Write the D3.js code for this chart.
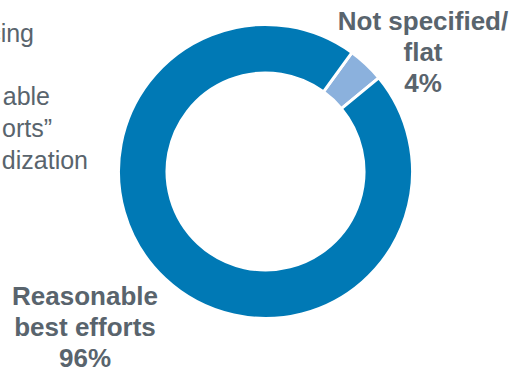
<!DOCTYPE html>
<html>
<head>
<meta charset="utf-8">
<script src="https://cdn.jsdelivr.net/npm/d3@7"></script>
<style>
  body { margin: 0; background: #fff; }
  svg { display: block; font-family: "Liberation Sans", Arial, sans-serif; }
</style>
</head>
<body>
<svg id="chart" width="512" height="368"></svg>
<script>
// chart values
const categories = ["Not specified/ flat", "Reasonable best efforts"];
const values = [4, 96];
const labelLines = [["Not specified/", "flat", "4%"], ["Reasonable", "best efforts", "96%"]];
// what is left of the slide's side text (the rest is cropped away in the source)
const sideText = ["cing", "", "able", "orts\u201d", "dization"];

const colours = { slices: ["#8BB1DD", "#0079B5"], text: "#59646D" };

const svg = d3.select("#chart");
const cx = 265.5, cy = 171.5;
const outerR = 147, innerR = 98.5;

svg.append("g")
  .selectAll("text")
  .data(sideText)
  .join("text")
  .attr("x", (d, i) => [34, 0, 50, 52, 88][i])
  .attr("y", (d, i) => 41.5 + i * 31.9)
  .attr("text-anchor", "end")
  .style("font-size", "25px")
  .style("fill", colours.text)
  .text((d) => d);

const pie = d3.pie()
  .sort(null)
  .startAngle((36 * Math.PI) / 180)
  .endAngle((36 * Math.PI) / 180 + 2 * Math.PI);

const arc = d3.arc().innerRadius(innerR).outerRadius(outerR);

const g = svg.append("g").attr("transform", `translate(${cx},${cy})`);

g.selectAll("path.slice")
  .data(pie(values))
  .join("path")
  .attr("class", "slice")
  .attr("d", arc)
  .style("fill", (d, i) => colours.slices[i])
  .style("stroke", "#fff")
  .style("stroke-width", 3);

// labels
const labelPos = [{ x: 423, y: 30 }, { x: 85, y: 305 }];
labelLines.forEach((lines, i) => {
  svg.append("text")
    .attr("text-anchor", "middle")
    .style("font-size", "26px")
    .style("font-weight", "bold")
    .style("fill", colours.text)
    .selectAll("tspan")
    .data(lines)
    .join("tspan")
    .attr("x", labelPos[i].x)
    .attr("y", (d, j) => labelPos[i].y + j * 31)
    .text((d) => d);
});
</script>
</body>
</html>
